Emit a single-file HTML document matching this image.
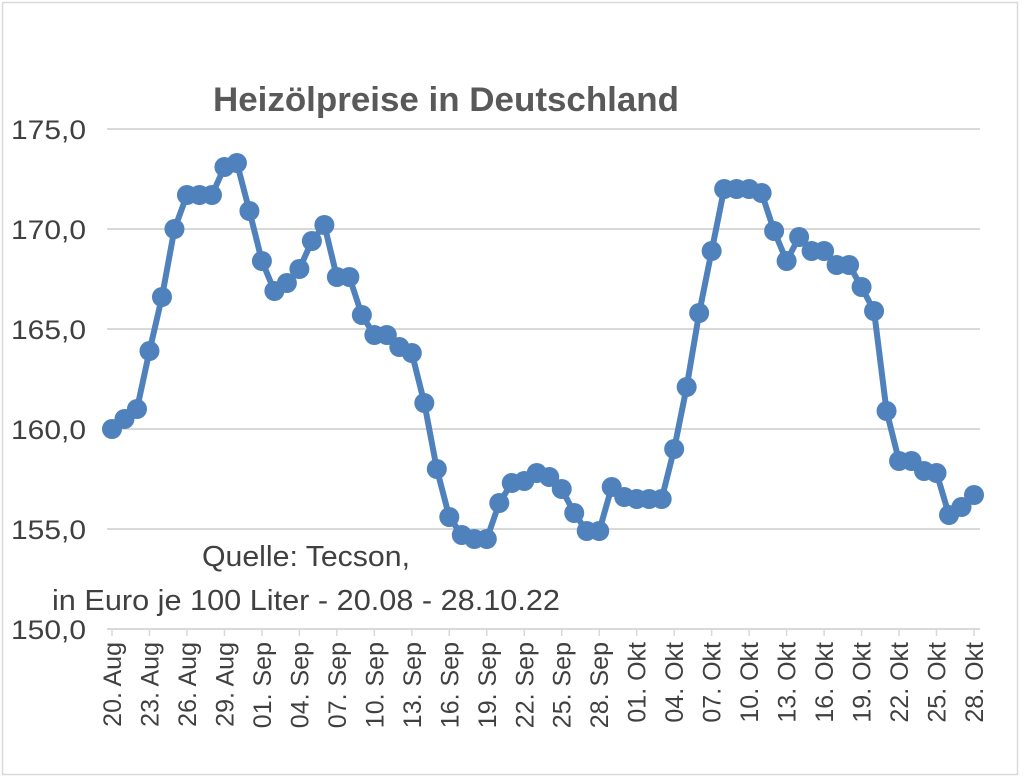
<!DOCTYPE html>
<html><head><meta charset="utf-8"><style>
html,body{margin:0;padding:0;background:#fff}
svg{display:block;font-family:"Liberation Sans",sans-serif}
</style></head><body>
<svg id="chart" width="1024" height="781" viewBox="0 0 1024 781">
<rect x="2.5" y="2.5" width="1015" height="772" fill="#fff" stroke="#d9d9d9" stroke-width="1.5"/>
<text x="446" y="111" text-anchor="middle" font-size="34" font-weight="bold" fill="#595959" textLength="466" lengthAdjust="spacingAndGlyphs">Heizölpreise in Deutschland</text>
<g id="grid"></g><g id="yticks"></g><g id="xticks"></g><g id="series"></g>
<text x="306" y="566" text-anchor="middle" font-size="29" fill="#404040" textLength="208" lengthAdjust="spacingAndGlyphs">Quelle: Tecson,</text>
<text x="306" y="610" text-anchor="middle" font-size="29" fill="#404040" textLength="508" lengthAdjust="spacingAndGlyphs">in Euro je 100 Liter - 20.08 - 28.10.22</text>
</svg>
<script>
const values=[160.0,160.5,161.0,163.9,166.6,170.0,171.7,171.7,171.7,173.1,173.3,170.9,168.4,166.9,167.3,168.0,169.4,170.2,167.6,167.6,165.7,164.7,164.7,164.1,163.8,161.3,158.0,155.6,154.7,154.5,154.5,156.3,157.3,157.4,157.8,157.6,157.0,155.8,154.9,154.9,157.1,156.6,156.5,156.5,156.5,159.0,162.1,165.8,168.9,172.0,172.0,172.0,171.8,169.9,168.4,169.6,168.9,168.9,168.2,168.2,167.1,165.9,160.9,158.4,158.4,157.9,157.8,155.7,156.1,156.7];
const xLabels=["20. Aug","23. Aug","26. Aug","29. Aug","01. Sep","04. Sep","07. Sep","10. Sep","13. Sep","16. Sep","19. Sep","22. Sep","25. Sep","28. Sep","01. Okt","04. Okt","07. Okt","10. Okt","13. Okt","16. Okt","19. Okt","22. Okt","25. Okt","28. Okt"];
const yTicks=[150,155,160,165,170,175];
const yTickLabels=["150,0","155,0","160,0","165,0","170,0","175,0"];
const NS="http://www.w3.org/2000/svg";
const x0=112,x1=974,yMin=150,yMax=175,py0=629,py1=129;
const xs=i=>x0+(x1-x0)*i/(values.length-1);
const ys=v=>py0+(py1-py0)*(v-yMin)/(yMax-yMin);
function mk(t,a,p){const e=document.createElementNS(NS,t);for(const k in a)e.setAttribute(k,a[k]);p.appendChild(e);return e;}
const grid=document.getElementById('grid'),yt=document.getElementById('yticks'),xt=document.getElementById('xticks'),ser=document.getElementById('series');
yTicks.forEach((v,i)=>{
  const l=mk('line',{x1:107,x2:980,y1:ys(v),y2:ys(v),stroke:'#d9d9d9','stroke-width':2},grid);
  
  
  const t=mk('text',{x:86,y:ys(v)+10,'text-anchor':'end','font-size':27,fill:'#404040',textLength:75,lengthAdjust:'spacingAndGlyphs'},yt);
  t.textContent=yTickLabels[i];
  
  
});
const step=(values.length-1)/(xLabels.length-1);
xLabels.forEach((s,i)=>{
  const x=xs(i*step);
  const tk=mk('line',{x1:x,x2:x,y1:629,y2:636,stroke:'#d9d9d9','stroke-width':1.5},xt);
  
  
  const t=mk('text',{x:x+9,y:642,'text-anchor':'end','font-size':25,fill:'#404040',transform:`rotate(-90 ${x+9} 642)`},xt);
  t.textContent=s;
  
  
});
const pl=mk('polyline',{points:values.map((v,i)=>xs(i)+','+ys(v)).join(' '),fill:'none',stroke:'#4f81bd','stroke-width':6,'stroke-linejoin':'round'},ser);


values.forEach((v,i)=>{
  const c=mk('circle',{cx:xs(i),cy:ys(v),r:10,fill:'#4f81bd'},ser);
  
  
});
</script>
</body></html>
